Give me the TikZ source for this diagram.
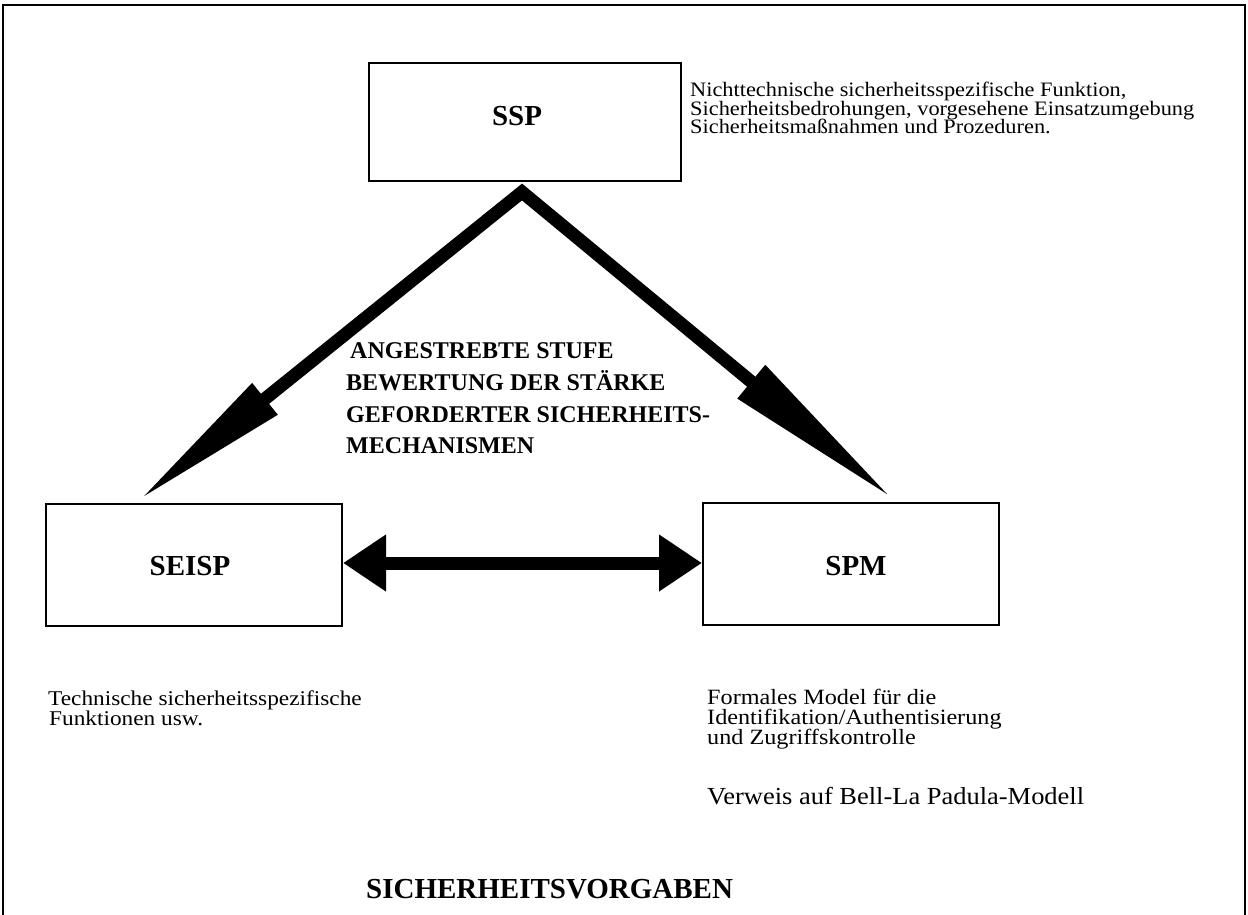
\documentclass[tikz,border=0pt]{standalone}
\usepackage{fontspec}
\setmainfont{Liberation Serif}
\newfontfamily\widerm[FakeStretch=1.09]{Liberation Serif}
\newfontfamily\widermb[FakeStretch=1.11]{Liberation Serif}
\newfontfamily\widermc[FakeStretch=1.08]{Liberation Serif}
\usetikzlibrary{arrows.meta,calc}
\begin{document}
\begin{tikzpicture}[x=1pt,y=-1pt,
  box/.style={draw,line width=2pt,inner sep=0pt,font=\fontsize{29}{32}\selectfont\bfseries},
  txt/.style={anchor=base west,inner sep=0pt},
  txtA/.style={txt,font=\widerm\fontsize{20.5}{18}\selectfont},
  txtB/.style={txt,font=\widermb\fontsize{21}{18}\selectfont},
  txtC/.style={txt,font=\widermb\fontsize{21.8}{19}\selectfont},
  txtD/.style={txt,font=\widermc\fontsize{24.5}{19}\selectfont},
  btxt/.style={txt,font=\fontsize{24}{30}\selectfont\bfseries},
  ttl/.style={txt,font=\fontsize{29}{32}\selectfont\bfseries},
  fat/.style={line width=13pt,line join=miter}
]
\clip (0,0) rectangle (1248,915);
\draw[line width=2.5pt] (3,940) -- (3,5) -- (1245,5) -- (1245,940);

\node[box,minimum width=312pt,minimum height=118pt] (ssp) at (525,122) {};
\node[box,minimum width=296pt,minimum height=122pt] (seisp) at (194,565) {};
\node[box,minimum width=296pt,minimum height=122pt] (spm) at (851,564) {};
\node[box,draw=none] (sspl) at (517,116) {SSP};
\node[box,draw=none] (seispl) at (190,566) {SEISP};
\node[box,draw=none] (spml) at (856,566) {SPM};

\coordinate (apex) at ($(ssp.south)+(-3,10)$);
\coordinate (ltip) at ($(seisp.north)+(-56,-2)$);
\coordinate (rtip) at ($(spm.north)+(42,-3)$);
\draw[fat,{Triangle[length=163pt,width=37pt]}-{Triangle[length=184pt,width=40pt]}] (ltip) -- (apex) -- (rtip);
\draw[fat,{Triangle[length=43pt,width=54pt]}-{Triangle[length=43pt,width=54pt]}]
  ([yshift=2pt]seisp.east) -- ([yshift=2pt]seisp.east -| spm.west);

\node[txtA] (r1) at (690,97) {Nichttechnische sicherheitsspezifische Funktion,};
\node[txtA] (r2) at (690,115.5) {Sicherheitsbedrohungen, vorgesehene Einsatzumgebung};
\node[txtA] (r3) at (690,134) {Sicherheitsmaßnahmen und Prozeduren.};

\node[btxt] (c1) at (350,358) {ANGESTREBTE STUFE};
\node[btxt] (c2) at (346,390) {BEWERTUNG DER STÄRKE};
\node[btxt] (c3) at (346,422) {GEFORDERTER SICHERHEITS-};
\node[btxt] (c4) at (346,453) {MECHANISMEN};

\node[txtB] (l1) at (48,705.5) {Technische sicherheitsspezifische};
\node[txtB] (l2) at (49,725) {Funktionen usw.};

\node[txtC] (s1) at (707,704.5) {Formales Model für die};
\node[txtC] (s2) at (707,724.5) {Identifikation/Authentisierung};
\node[txtC] (s3) at (707,744.5) {und Zugriffskontrolle};
\node[txtD] (s4) at (707,804) {Verweis auf Bell-La Padula-Modell};

\node[ttl] (title) at (366,898) {SICHERHEITSVORGABEN};
\end{tikzpicture}
\end{document}
